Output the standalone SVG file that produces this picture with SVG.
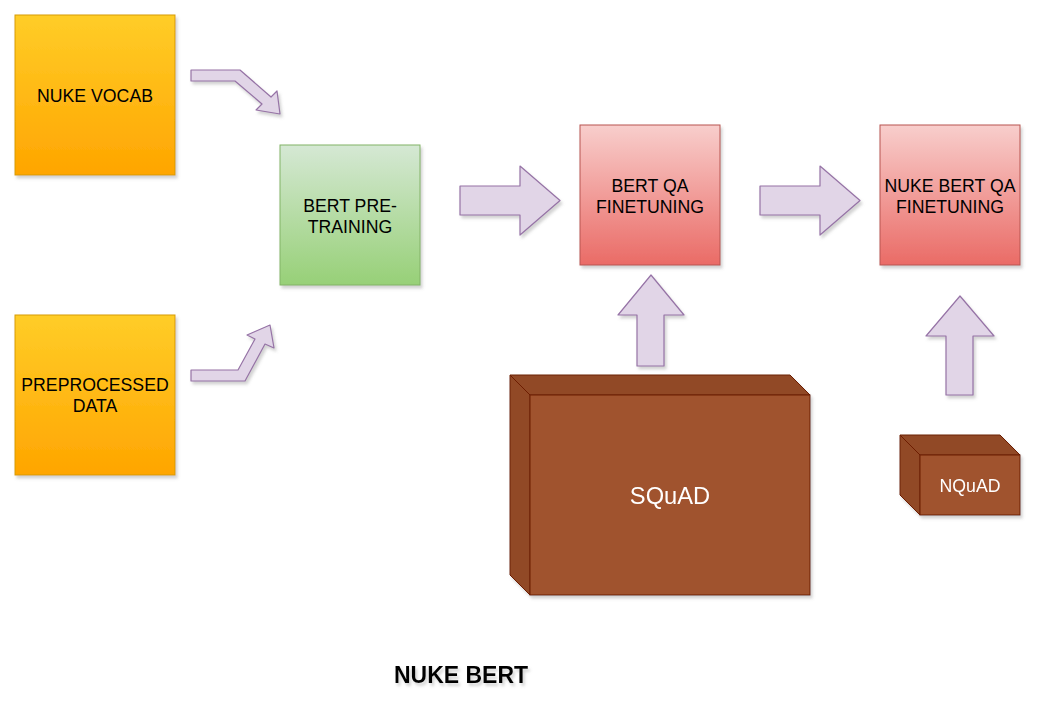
<svg xmlns="http://www.w3.org/2000/svg" width="1047" height="722" viewBox="0 0 1047 722">
  <style>
    .lbl { font-family: "Liberation Sans", Arial, sans-serif; font-size: 17.7px; fill: #000000; text-anchor: middle; }
    .wlbl { font-family: "Liberation Sans", Arial, sans-serif; fill: #ffffff; text-anchor: middle; }
    .arrow { fill: #e1d5e7; stroke: #9673a6; stroke-width: 1.2; stroke-linejoin: round; }
    .orange { fill: url(#gOrange); stroke: #d79b00; stroke-width: 1; }
    .green { fill: url(#gGreen); stroke: #82b366; stroke-width: 1; }
    .red { fill: url(#gRed); stroke: #b85450; stroke-width: 1; }
    .bfront { fill: #a0522d; stroke: #6d1f00; stroke-width: 1; }
    .bside { fill: #914a28; stroke: #6d1f00; stroke-width: 1; }
    .title { font-family: "Liberation Sans", Arial, sans-serif; font-size: 23px; font-weight: bold; fill: #000000; text-anchor: middle; }
  </style>
  <defs>
    <linearGradient id="gOrange" x1="0" y1="0" x2="0" y2="1">
      <stop offset="0" stop-color="#ffcd28"/>
      <stop offset="1" stop-color="#ffa500"/>
    </linearGradient>
    <linearGradient id="gGreen" x1="0" y1="0" x2="0" y2="1">
      <stop offset="0" stop-color="#d5e8d4"/>
      <stop offset="1" stop-color="#97d077"/>
    </linearGradient>
    <linearGradient id="gRed" x1="0" y1="0" x2="0" y2="1">
      <stop offset="0" stop-color="#f8cecc"/>
      <stop offset="1" stop-color="#ea6b66"/>
    </linearGradient>
    <filter id="shadow" x="-10%" y="-10%" width="130%" height="130%">
      <feDropShadow dx="2" dy="3" stdDeviation="1.5" flood-color="#808080" flood-opacity="0.35"/>
    </filter>
  </defs>
  <rect width="1047" height="722" fill="#ffffff"/>

  <g id="connectors" filter="url(#shadow)">
    <path id="arrow-vocab" class="arrow" d="M191,70 L240,70 L271,97 L277,91 L280,114 L256,110 L262,104 L235,81 L191,81 Z"/>
    <path id="arrow-data" class="arrow" d="M191,370 L238,370 L255,339 L247,335 L270,325 L274,348 L265,344 L245,381 L191,381 Z"/>
    <path id="arrow-pre-qa" class="arrow" d="M460,186 L520,186 L520,166 L560,200.5 L520,235 L520,215 L460,215 Z"/>
    <path id="arrow-qa-nuke" class="arrow" d="M760,186 L820,186 L820,166 L860,200.5 L820,235 L820,215 L760,215 Z"/>
    <path id="arrow-squad" class="arrow" d="M637,366 L637,315 L618,315 L651,275 L684,315 L664,315 L664,366 Z"/>
    <path id="arrow-nquad" class="arrow" d="M946,395 L946,336 L926,336 L960,296 L994,336 L973,336 L973,395 Z"/>
  </g>

  <g id="nuke-vocab">
    <rect class="orange" x="15" y="15" width="160" height="160" filter="url(#shadow)"/>
    <text class="lbl" x="95" y="101.5">NUKE VOCAB</text>
  </g>

  <g id="preprocessed-data">
    <rect class="orange" x="15" y="315" width="160" height="160" filter="url(#shadow)"/>
    <text class="lbl" x="95" y="391">PREPROCESSED</text>
    <text class="lbl" x="95" y="412">DATA</text>
  </g>

  <g id="bert-pretraining">
    <rect class="green" x="280" y="145" width="140" height="140" filter="url(#shadow)"/>
    <text class="lbl" x="350" y="212">BERT PRE-</text>
    <text class="lbl" x="350" y="233">TRAINING</text>
  </g>

  <g id="bert-qa">
    <rect class="red" x="580" y="125" width="140" height="140" filter="url(#shadow)"/>
    <text class="lbl" x="650" y="192">BERT QA</text>
    <text class="lbl" x="650" y="213">FINETUNING</text>
  </g>

  <g id="nuke-bert-qa">
    <rect class="red" x="880" y="125" width="140" height="140" filter="url(#shadow)"/>
    <text class="lbl" x="950" y="192">NUKE BERT QA</text>
    <text class="lbl" x="950" y="213">FINETUNING</text>
  </g>

  <g id="squad" filter="url(#shadow)">
    <path class="bside" d="M510,375 L790,375 L810,395 L530,395 Z"/>
    <path class="bside" d="M510,375 L530,395 L530,595 L510,575 Z"/>
    <rect class="bfront" x="530" y="395" width="280" height="200"/>
    <text class="wlbl" x="670" y="504" font-size="23.7">SQuAD</text>
  </g>

  <g id="nquad" filter="url(#shadow)">
    <path class="bside" d="M900,435 L1000,435 L1020,455 L920,455 Z"/>
    <path class="bside" d="M900,435 L920,455 L920,515 L900,495 Z"/>
    <rect class="bfront" x="920" y="455" width="100" height="60"/>
    <text class="wlbl" x="970" y="491.5" font-size="17.7">NQuAD</text>
  </g>

  <g id="title">
    <text class="title" x="461" y="683" filter="url(#shadow)">NUKE BERT</text>
  </g>
</svg>
